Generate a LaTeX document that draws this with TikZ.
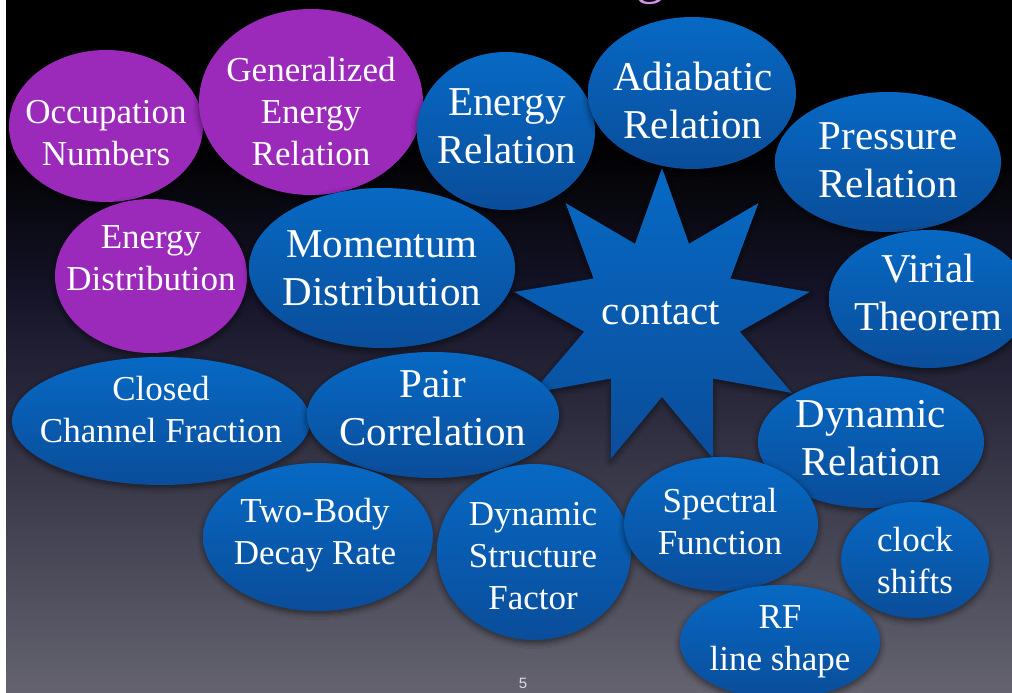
\documentclass[tikz,border=0pt]{standalone}
\usepackage{fontspec}
\setmainfont{Liberation Serif}
\newfontfamily\pagenumfont{Liberation Sans}
\usetikzlibrary{shapes.geometric,shadows.blur}

\definecolor{bubtop}{HTML}{0769C4}
\definecolor{bubbot}{HTML}{0A4D9A}
\definecolor{bubpurple}{HTML}{9B2ABB}
\definecolor{bgmid}{HTML}{16152A}
\definecolor{bgbot}{HTML}{64636F}
\definecolor{titlepink}{HTML}{D690EA}
\definecolor{pagegray}{HTML}{DCDCDC}

\tikzset{
  softshadow/.style={blur shadow={shadow xshift=0pt, shadow yshift=-2.5pt,
      shadow blur radius=6pt, shadow blur steps=8, shadow opacity=55}},
  bub/.style={ellipse, inner sep=0pt, draw=none, softshadow},
  bluebub/.style={bub, top color=bubtop, bottom color=bubbot},
  purplebub/.style={bub, fill=bubpurple},
  smalltext/.style={text=white, align=center, inner sep=0pt,
    font=\fontsize{35}{42}\selectfont},
  bigtext/.style={text=white, align=center, inner sep=0pt,
    font=\fontsize{41}{48}\selectfont},
}

\begin{document}
\begin{tikzpicture}[x=1pt,y=-1pt]
\useasboundingbox (0,0) rectangle (1012,693);
\clip (0,0) rectangle (1012,693);

% white margin strip at the left
\fill[white] (0,0) rectangle (1012,693);

\begin{scope}
\clip (6,0) rectangle (1012,693);
% slide background: dark vertical gradient
\fill[black] (6,0) rectangle (1012,141);
\shade[top color=black, bottom color=bgmid] (6,140) rectangle (1012,301);
\shade[top color=bgmid, bottom color=bgbot] (6,300) rectangle (1012,693);

% descender of the slide title
\node[anchor=base, text=titlepink, inner sep=0pt,
      font=\fontsize{56}{60}\selectfont] (title) at (650,-7) {g};

% central nine-pointed star
\node[star, star points=9, star point ratio=1.9, minimum size=300pt,
      inner sep=0pt, top color=bubtop, bottom color=bubbot, softshadow]
      (star) at (662,318) {};
\node[bigtext] (contact) at (661,313) {contact};

% surrounding bubbles
\node[purplebub, minimum width=194pt, minimum height=152pt] (occ) at (106,126) {};
\node[smalltext] (occ-t) at (106,133) {Occupation\\Numbers};

\node[purplebub, minimum width=224pt, minimum height=186pt] (gen) at (311,102) {};
\node[smalltext] (gen-t) at (311,112) {Generalized\\Energy\\Relation};

\node[bluebub, minimum width=178pt, minimum height=158pt] (enrel) at (506,131) {};
\node[bigtext] (enrel-t) at (507,126) {Energy\\Relation};

\node[bluebub, minimum width=208pt, minimum height=152pt] (adia) at (692,93) {};
\node[bigtext] (adia-t) at (693,100) {Adiabatic\\Relation};

\node[bluebub, minimum width=226pt, minimum height=140pt] (pres) at (888,162) {};
\node[bigtext] (pres-t) at (888,160) {Pressure\\Relation};

\node[bluebub, minimum width=200pt, minimum height=138pt] (vir) at (929,299) {};
\node[bigtext] (vir-t) at (928,292) {Virial\\Theorem};

\node[purplebub, minimum width=192pt, minimum height=154pt] (edist) at (151,276) {};
\node[smalltext] (edist-t) at (151,258) {Energy\\Distribution};

\node[bluebub, minimum width=266pt, minimum height=160pt] (mom) at (382,268) {};
\node[bigtext] (mom-t) at (382,268) {Momentum\\Distribution};

\node[bluebub, minimum width=298pt, minimum height=128pt] (closed) at (161,421) {};
\node[smalltext] (closed-t) at (161,410) {Closed\\Channel Fraction};

\node[bluebub, minimum width=252pt, minimum height=126pt] (pair) at (433,415) {};
\node[bigtext] (pair-t) at (433,408) {Pair\\Correlation};

\node[bluebub, minimum width=226pt, minimum height=132pt] (dynrel) at (871,442) {};
\node[bigtext] (dynrel-t) at (871,438) {Dynamic\\Relation};

\node[bluebub, minimum width=230pt, minimum height=148pt] (twob) at (318,537) {};
\node[smalltext] (twob-t) at (315,535) {Two-Body\\Decay Rate};

\node[bluebub, minimum width=194pt, minimum height=176pt] (dsf) at (534,552) {};
\node[smalltext] (dsf-t) at (533,556) {Dynamic\\Structure\\Factor};

\node[bluebub, minimum width=194pt, minimum height=134pt] (spec) at (721,524) {};
\node[smalltext] (spec-t) at (720,522) {Spectral\\Function};

\node[bluebub, minimum width=200pt, minimum height=114pt] (rf) at (780,642) {};
\node[smalltext] (rf-t) at (780,642) {RF\\line shape};

\node[bluebub, minimum width=148pt, minimum height=116pt] (clock) at (915,560) {};
\node[smalltext] (clock-t) at (915,561) {clock\\shifts};

% slide number
\node[text=pagegray, inner sep=0pt, font=\pagenumfont\fontsize{15}{18}\selectfont]
      (pagenum) at (523,683) {5};
\end{scope}
\end{tikzpicture}
\end{document}
